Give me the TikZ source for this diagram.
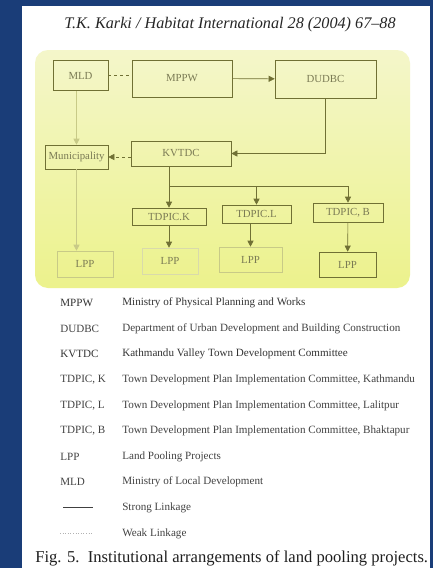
\documentclass[tikz,border=0pt]{standalone}
\usepackage{fontspec}
\setmainfont{Liberation Serif}
\usetikzlibrary{arrows.meta,positioning}
\definecolor{pageblue}{RGB}{26,61,120}
\definecolor{linkolive}{RGB}{112,112,52}
\definecolor{faintolive}{RGB}{200,202,135}
\definecolor{boxtext}{RGB}{122,122,84}
\definecolor{yeltop}{RGB}{244,246,202}
\definecolor{yelbot}{RGB}{236,242,140}
\definecolor{legtext}{RGB}{66,66,66}

\begin{document}
\begin{tikzpicture}[x=1pt,y=-1pt,->,>={Triangle[length=6pt,width=6pt]},semithick]
		\tikzset{inst/.style={draw=linkolive,rectangle,inner sep=0pt,text=boxtext,font=\fontsize{10.8}{12}\selectfont},
			strong/.style={draw=linkolive},
			weak/.style={draw=linkolive,dashed},
			faint/.style={draw=faintolive},
			abbr/.style={anchor=west,inner sep=0pt,text=legtext,font=\fontsize{11.1}{12}\selectfont},
			desc/.style={abbr}}
		\useasboundingbox (0,0) rectangle (433,568);
		\fill[pageblue,-] (0,0) rectangle (433,568);
		\fill[white,-] (22,6) rectangle (430,568);
		\shade[-,top color=yeltop,bottom color=yelbot,rounded corners=13pt] (35,50) rectangle (410,288);
		\node[font=\fontsize{16.2}{18}\selectfont\itshape,text=black!85] (title) at (230,25) {T.K. Karki / Habitat International 28 (2004) 67--88};
		% institutions
		\node[inst,minimum width=55pt,minimum height=30pt] (MLD) at (80.5,75.5) {MLD};
		\node[inst,minimum width=100pt,minimum height=37pt] (MPPW) at (182,78.5) {MPPW};
		\node[inst,minimum width=101pt,minimum height=38pt] (DUDBC) at (325.5,79) {DUDBC};
		\node[inst,minimum width=63pt,minimum height=24pt] (Mun) at (76.5,157) {Municipality};
		\node[inst,minimum width=100pt,minimum height=25pt] (KVTDC) at (181,153.5) {KVTDC};
		\node[inst,minimum width=74pt,minimum height=17pt] (TK) at (169,216.5) {TDPIC.K};
		\node[inst,minimum width=69pt,minimum height=18pt] (TL) at (256.5,214) {TDPIC.L};
		\node[inst,minimum width=70pt,minimum height=19pt] (TB) at (348,212.5) {TDPIC, B};
		\node[inst,draw=faintolive,minimum width=56pt,minimum height=26pt] (LPPm) at (85,264) {LPP};
		\node[inst,draw=faintolive!70,minimum width=56pt,minimum height=26pt] (LPPk) at (170,261) {LPP};
		\node[inst,draw=faintolive,minimum width=63pt,minimum height=25pt] (LPPl) at (250.5,259.5) {LPP};
		\node[inst,minimum width=57pt,minimum height=25pt] (LPPb) at (347.5,264.5) {LPP};
		\coordinate (busK) at (169,186);
		\coordinate (busB) at (348,186);
		% linkages
		\draw[weak,-] (MLD.east) -- (MLD.east -| MPPW.west);
		\draw[strong] (MPPW) -- (DUDBC);
		\draw[strong] (DUDBC) |- (KVTDC);
		\draw[faint] (Mun.north |- MLD.south) -- (Mun.north);
		\draw[weak] (KVTDC.west |- Mun.east) -- (Mun.east);
		\draw[faint] (Mun.south) -- (Mun.south |- LPPm.north);
		\draw[strong] (KVTDC.south -| TK.north) -- (TK.north);
		\draw[strong,-] (busK) -- (busB);
		\draw[strong] (TL.north |- busK) -- (TL.north);
		\draw[strong] (busB) -- (TB.north);
		\draw[strong] (TK.south) -- (TK.south |- LPPk.north);
		\draw[strong] (LPPl.north |- TL.south) -- (LPPl.north);
		\draw[strong] (TB) -- (LPPb);
		% legend
		\node[abbr,text=black!80] (kMPPW) at (60,303) {MPPW};
		\node[desc,text=black!80] (dMPPW) at (122,303) {Ministry of Physical Planning and Works};
		\node[abbr] (kDUDBC) at (60,328.6) {DUDBC};
		\node[desc] (dDUDBC) at (122,328.6) {Department of Urban Development and Building Construction};
		\node[abbr,text=black!80] (kKVTDC) at (60,354.2) {KVTDC};
		\node[desc,text=black!80] (dKVTDC) at (122,354.2) {Kathmandu Valley Town Development Committee};
		\node[abbr] (kTK) at (60,379.8) {TDPIC, K};
		\node[desc] (dTK) at (122,379.8) {Town Development Plan Implementation Committee, Kathmandu};
		\node[abbr] (kTL) at (60,405.4) {TDPIC, L};
		\node[desc] (dTL) at (122,405.4) {Town Development Plan Implementation Committee, Lalitpur};
		\node[abbr] (kTB) at (60,431) {TDPIC, B};
		\node[desc] (dTB) at (122,431) {Town Development Plan Implementation Committee, Bhaktapur};
		\node[abbr] (kLPP) at (60,456.6) {LPP};
		\node[desc] (dLPP) at (122,456.6) {Land Pooling Projects};
		\node[abbr] (kMLD) at (60,482.2) {MLD};
		\node[desc] (dMLD) at (122,482.2) {Ministry of Local Development};
		\coordinate (strongA) at (63,507.8);
		\coordinate (strongB) at (93,507.8);
		\draw[-,black!75,thick] (strongA) -- (strongB);
		\node[desc] (dStrong) at (122,507.8) {Strong Linkage};
		\coordinate (weakA) at (60,533.4);
		\coordinate (weakB) at (93,533.4);
		\draw[-,black!30,dotted] (weakA) -- (weakB);
		\node[desc] (dWeak) at (122,533.4) {Weak Linkage};
		\node[anchor=west,inner sep=0pt,text=black!88,font=\fontsize{16.6}{18}\selectfont] (caption) at (35,558) {Fig. 5.\ \ Institutional arrangements of land pooling projects.};
		\end{tikzpicture}
\end{document}
